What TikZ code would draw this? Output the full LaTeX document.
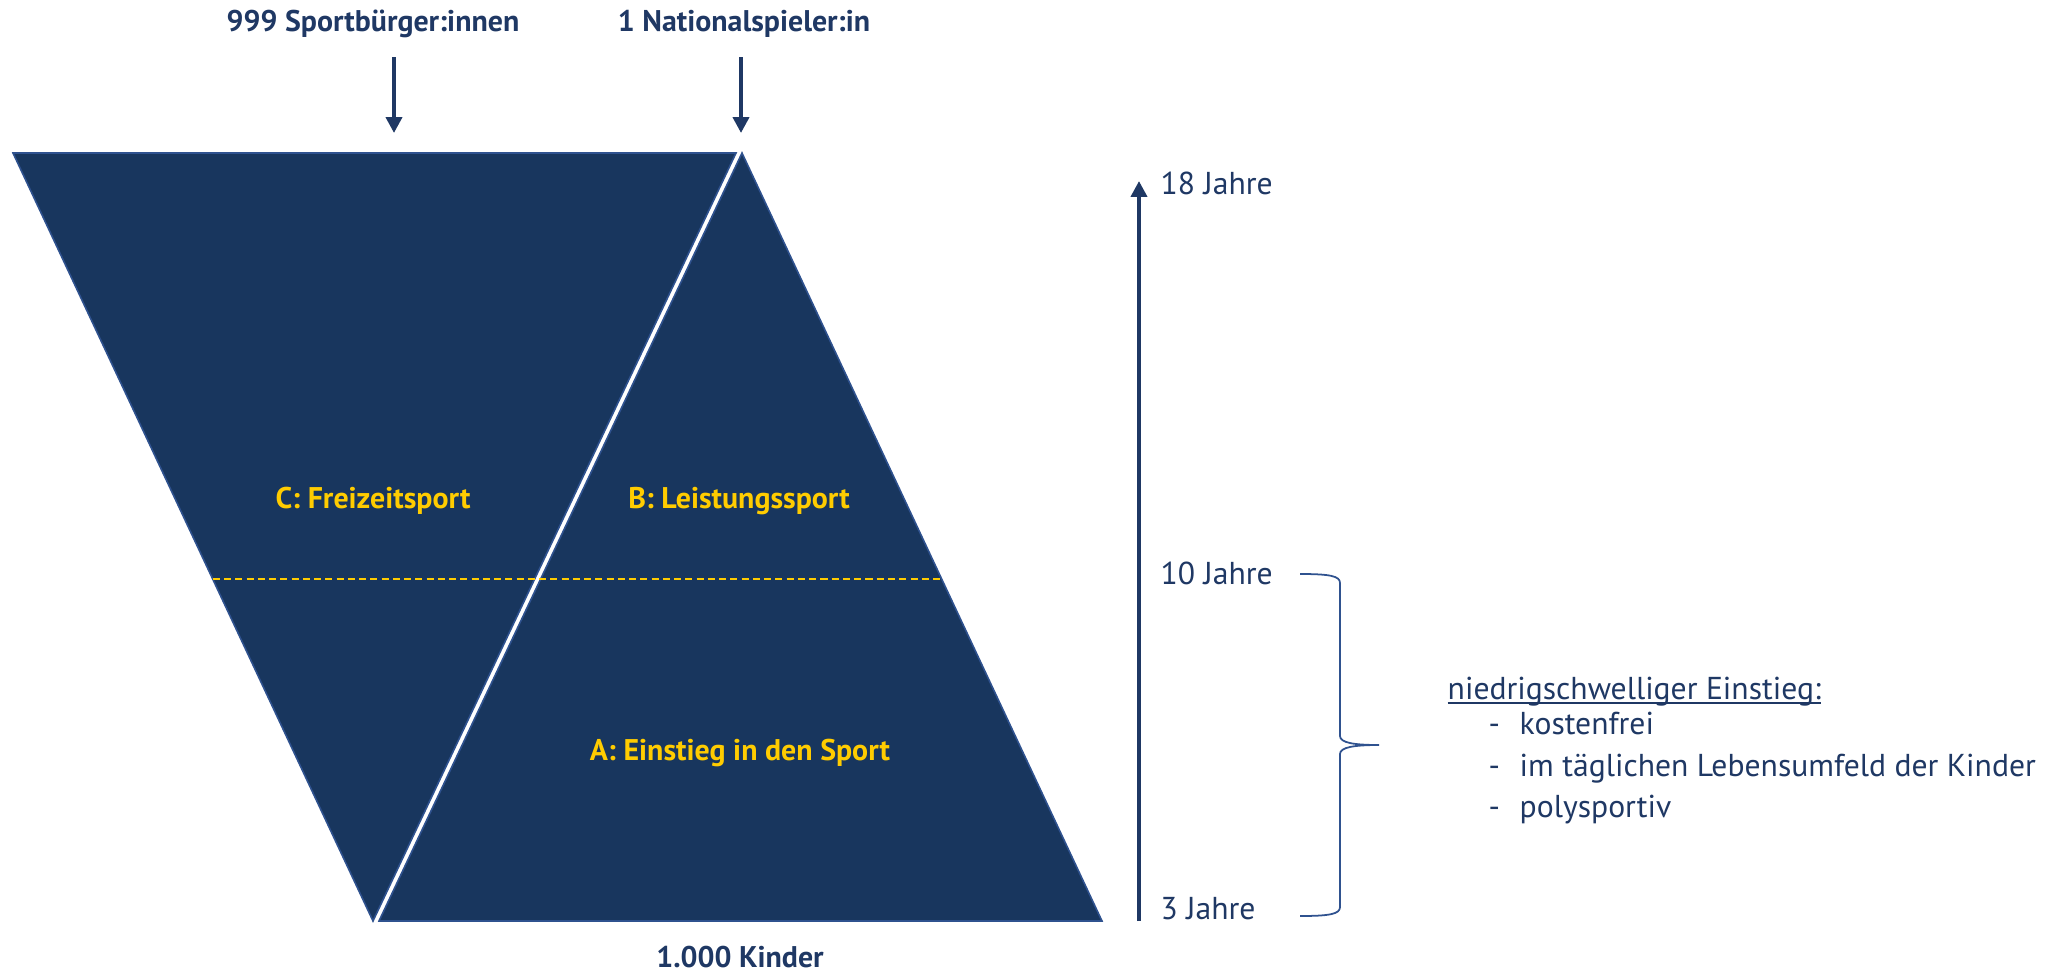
\documentclass[tikz,border=0pt]{standalone}
\usepackage{fontspec}
\setmainfont{PT Sans}
\usetikzlibrary{arrows.meta,calc}

\definecolor{navy}{HTML}{18365E}
\definecolor{inknavy}{HTML}{1F3864}
\definecolor{edgeblue}{HTML}{2F528F}
\definecolor{gold}{HTML}{FFCC00}

% Unterstrich knapp unter der Grundlinie
\newlength\ulwd
\newcommand\ulbase[1]{\settowidth{\ulwd}{#1}\rlap{\rule[-1.4pt]{\ulwd}{0.55pt}}#1}

\tikzset{
  tri/.style={fill=navy, draw=edgeblue, line width=0.45pt},
  lbl/.style={font=\fontsize{8.5}{10}\selectfont\bfseries, text=inknavy, inner sep=0pt},
  zone/.style={font=\fontsize{8.5}{10}\selectfont\bfseries, text=gold, inner sep=0pt},
  age/.style={font=\fontsize{9}{11}\selectfont, text=inknavy, anchor=west, inner sep=0pt},
  info/.style={font=\fontsize{9}{11}\selectfont, text=inknavy, anchor=base west, inner sep=0pt},
  ptr/.style={inknavy, line width=1.1pt, -{Triangle[length=4.5pt,width=4.5pt]}},
}

\begin{document}
\begin{tikzpicture}[x=0.01cm, y=-0.01cm]
\useasboundingbox (0,0) rectangle (2050,972);

% Funnel C (inverted triangle)
\coordinate (cTL) at (13,153);
\coordinate (cTR) at (736,153);
\coordinate (cB) at (373,921);
\draw[tri] (cTL) -- (cTR) -- (cB) -- cycle;

% Pyramid A/B (upright triangle)
\coordinate (bT) at (742,153);
\coordinate (bBL) at (379,921);
\coordinate (bBR) at (1102,921);
\draw[tri] (bT) -- (bBR) -- (bBL) -- cycle;

% Grenze mit 10 Jahren
\coordinate (tenL) at ($(cTL)!0.555!(cB)$);
\coordinate (tenR) at ($(bT)!0.555!(bBR)$);
\draw[gold, line width=0.55pt, dash pattern=on 2pt off 1.2pt] (tenL) -- (tenR);

% Bereiche
\node[zone] (freizeit) at (373,501) {C: Freizeitsport};
\node[zone] (leistung) at (739,501) {B: Leistungssport};
\node[zone] (einstiegA) at (740,753) {A: Einstieg in den Sport};

% Labels oben und unten
\node[lbl] (sportb) at (373,24) {999 Sportbürger:innen};
\node[lbl] (natio) at (744,24) {1 Nationalspieler:in};
\node[lbl] (kinder) at (740,957) {1.000 Kinder};

% Arrows
\coordinate (sbFrom) at (394,57);
\coordinate (sbTo) at (394,133);
\draw[ptr] (sbFrom) -- (sbTo);
\coordinate (npFrom) at (741,57);
\coordinate (npTo) at (741,133);
\draw[ptr] (npFrom) -- (npTo);

% Altersachse
\coordinate (axBot) at (1139,921);
\coordinate (axTop) at (1139,181);
\draw[ptr] (axBot) -- (axTop);
\node[age] (a18) at (1160,183) {18 Jahre};
\node[age] (a10) at (1160,573) {10 Jahre};
\node[age] (a3) at (1160,909) {3 Jahre};

% Klammer
\coordinate (brTop) at (1300,574);
\coordinate (brTip) at (1379,745);
\coordinate (brBot) at (1300,916);
\draw[edgeblue, line width=0.5pt]
  (brTop) .. controls (1330,574) and (1340,576) .. (1340,583) -- (1340,736)
  .. controls (1340,743) and (1355,745) .. (brTip)
  .. controls (1355,745) and (1340,747) .. (1340,754) -- (1340,907)
  .. controls (1340,914) and (1330,916) .. (brBot);

% Einstieg
\node[info] (einstieg) at (1447,699) {\ulbase{niedrigschwelliger Einstieg:}};
\node[info] (kosten) at (1488,734) {\makebox[0.31cm][l]{-}kostenfrei};
\node[info] (umfeld) at (1488,776) {\makebox[0.31cm][l]{-}im täglichen Lebensumfeld der Kinder};
\node[info] (poly) at (1488,817) {\makebox[0.31cm][l]{-}polysportiv};

\end{tikzpicture}
\end{document}
